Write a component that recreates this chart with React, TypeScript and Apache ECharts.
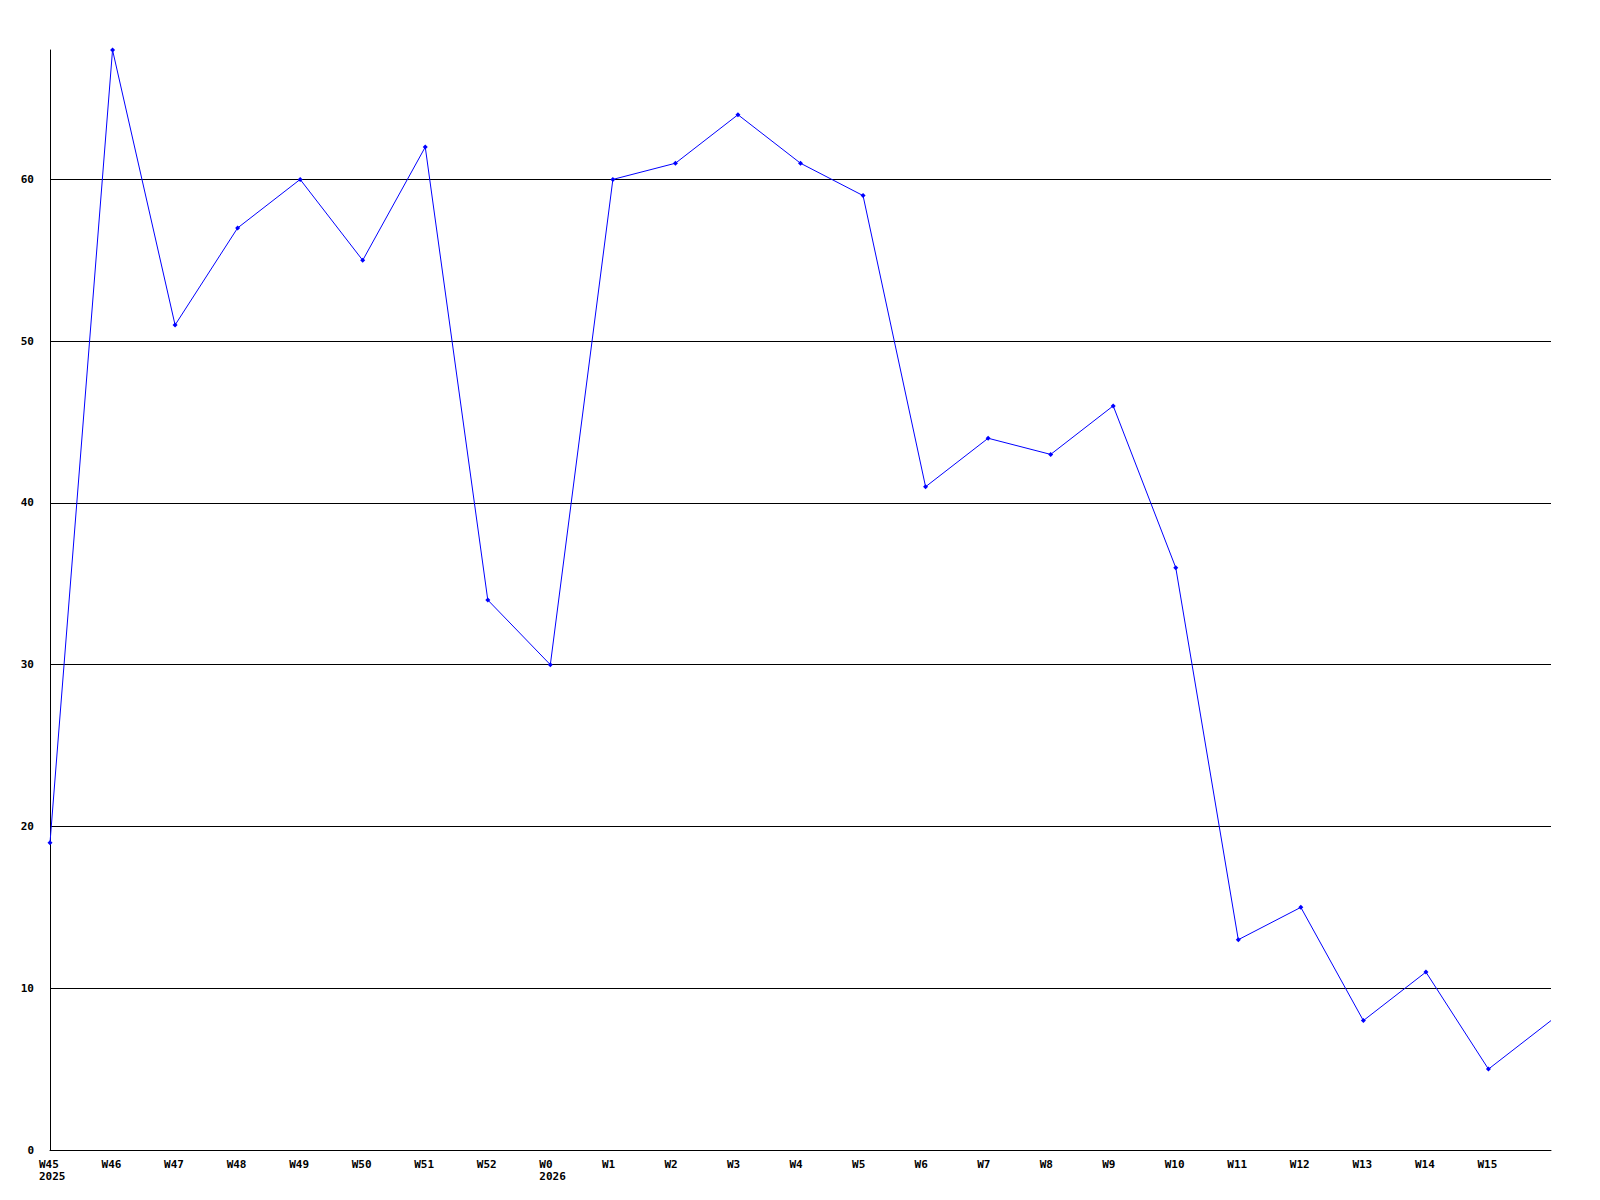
import React, { useEffect, useRef } from "react";
import * as echarts from "echarts";

const weeks = ["W45\n2025", "W46", "W47", "W48", "W49", "W50", "W51", "W52", "W0\n2026", "W1", "W2", "W3", "W4", "W5", "W6", "W7", "W8", "W9", "W10", "W11", "W12", "W13", "W14", "W15", ""];
const values = [19, 68, 51, 57, 60, 55, 62, 34, 30, 60, 61, 64, 61, 59, 41, 44, 43, 46, 36, 13, 15, 8, 11, 5, 8];
const yTicks = [0, 10, 20, 30, 40, 50, 60];

export default function App() {
  const ref = useRef<HTMLDivElement>(null);
  useEffect(() => {
    if (!ref.current) return;
    const chart = echarts.init(ref.current, null, { renderer: "svg" });
    const font = "DejaVu Sans Mono";
    const lineColors = yTicks.map(() => "#000000").concat(["rgba(0,0,0,0)"]);
    chart.setOption({
      animation: false,
      backgroundColor: "#ffffff",
      grid: { left: 50, top: 50, right: 49, bottom: 50, containLabel: false },
      xAxis: {
        type: "category",
        data: weeks,
        boundaryGap: false,
        axisLine: { show: true, lineStyle: { color: "#000000", width: 1 } },
        axisTick: { show: false },
        axisLabel: {
          interval: 0,
          color: "#000000",
          fontFamily: font,
          fontWeight: "bold",
          fontSize: 11,
          lineHeight: 12.5,
          margin: 8,
          align: "left",
          padding: [0, 0, 0, -11],
        },
        splitLine: { show: false },
      },
      yAxis: {
        type: "value",
        min: 0,
        max: 68,
        interval: 10,
        axisLine: { show: true, lineStyle: { color: "#000000", width: 1 } },
        axisTick: { show: false },
        axisLabel: {
          color: "#000000",
          fontFamily: font,
          fontWeight: "bold",
          fontSize: 11,
          margin: 16,
          showMaxLabel: false,
        },
        splitLine: { show: true, lineStyle: { color: lineColors, width: 1 } },
      },
      series: [
        {
          type: "line",
          data: values.map((v, i) => (i === values.length - 1 ? { value: v, symbol: "none" } : v)),
          lineStyle: { color: "#0000ff", width: 1 },
          itemStyle: { color: "#0000ff" },
          symbol: "diamond",
          symbolSize: 5,
          showSymbol: true,
        },
      ],
    });
    return () => chart.dispose();
  }, []);
  return <div ref={ref} style={{ position: "fixed", left: 0, top: 0, width: 1600, height: 1200 }} />;
}
